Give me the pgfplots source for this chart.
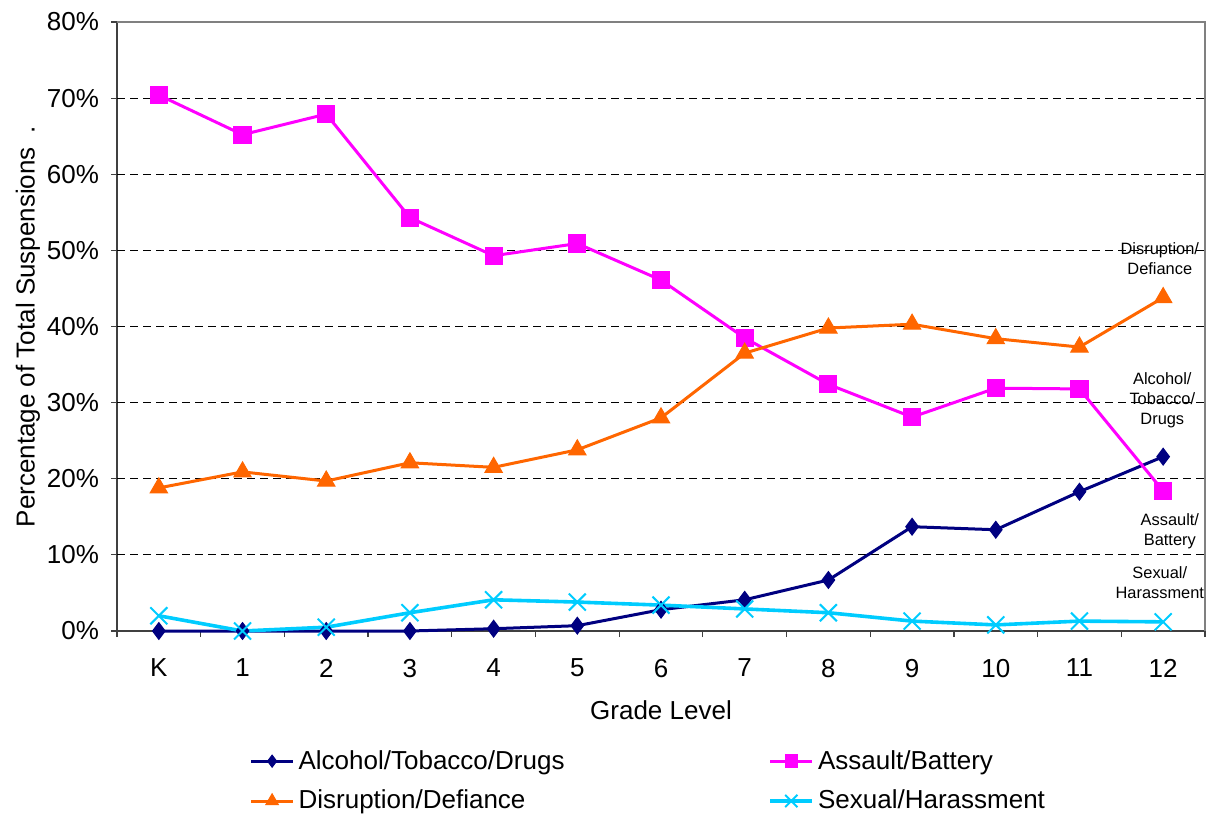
\documentclass[border=0pt]{standalone}
\usepackage{fontspec}
\setmainfont{Liberation Sans}
\usepackage{pgfplots}
\pgfplotsset{compat=1.18}
\definecolor{navyc}{HTML}{000080}
\definecolor{magc}{HTML}{FF00FF}
\definecolor{orangec}{HTML}{FF6600}
\definecolor{cyanc}{HTML}{00CCFF}
\begin{document}
\begin{tikzpicture}
\path (0,0) rectangle (608pt,408pt);
\begin{axis}[
    at={(58.5pt,92.5pt)}, anchor=south west,
    scale only axis, width=544pt, height=304.5pt,
    xmin=-0.5, xmax=12.5, ymin=0, ymax=80,
    clip=false,
    axis x line*=bottom, axis y line*=left,
    axis line style={draw=black!75, line width=0.8pt},
    tick align=outside,
    major tick length=3pt, minor tick length=3pt,
    xtick={0,...,12},
    xticklabels={K,1,2,3,4,5,6,7,8,9,10,11,12},
    major x tick style={draw=none},
    minor xtick={-0.5,0.5,...,12.5},
    minor x tick style={draw=black!75, line width=0.6pt},
    ytick={0,10,...,80},
    ytick style={draw=black!75, line width=0.6pt},
    yticklabel={\pgfmathprintnumber[assume math mode=true]{\tick}\%},
    extra y ticks={10,20,...,70},
    extra y tick labels={},
    extra y tick style={grid=major, major tick length=0pt},
    grid style={black, line width=0.5pt, dash pattern=on 4pt off 2.5pt},
    ticklabel style={font=\fontsize{13}{15}\selectfont},
    xticklabel style={yshift=-7.5pt},
    yticklabel style={xshift=-2.5pt},
    xlabel={Grade Level},
    ylabel={Percentage of Total Suspensions\hspace{7pt}.},
    label style={font=\fontsize{13}{15}\selectfont},
    xlabel style={at={(axis description cs:0.5,-0.1297)}, anchor=center},
    ylabel style={at={(axis description cs:-0.0818,0.5)}, anchor=center},
    legend columns=2,
    legend cell align=left,
    legend image code/.code={
        \draw[mark repeat=2, mark phase=2, #1, every mark/.append style={scale=0.72}]
        plot coordinates {(0pt,0pt) (10.5pt,0pt) (21pt,0pt)};},
    legend style={draw=none, at={(0.116,-0.182)}, anchor=north west,
        font=\fontsize{13}{15}\selectfont, row sep=5pt,
        /tikz/every even column/.append style={column sep=100pt}},
]
\addplot[color=navyc, line width=1.5pt, mark=diamond*, mark size=4.2pt,
    mark options={solid, line width=0.5pt}] coordinates {
    (0,0) (1,0) (2,0) (3,0) (4,0.3) (5,0.7) (6,2.8) (7,4.1)
    (8,6.7) (9,13.7) (10,13.3) (11,18.3) (12,22.9)};
\addlegendentry{Alcohol/Tobacco/Drugs}
\addplot[color=magc, line width=1.5pt, mark=square*, mark size=4.3pt,
    mark options={solid, line width=0.5pt}] coordinates {
    (0,70.4) (1,65.2) (2,67.9) (3,54.3) (4,49.3) (5,50.9) (6,46.1) (7,38.5)
    (8,32.4) (9,28.1) (10,31.9) (11,31.8) (12,18.4)};
\addlegendentry{Assault/Battery}
\addplot[color=orangec, line width=1.5pt, mark=triangle*, mark size=5pt,
    mark options={solid, line width=0.5pt}] coordinates {
    (0,18.8) (1,20.9) (2,19.7) (3,22.1) (4,21.5) (5,23.8) (6,28.0) (7,36.5)
    (8,39.8) (9,40.3) (10,38.4) (11,37.3) (12,43.8)};
\addlegendentry{Disruption/Defiance}
\addplot[color=cyanc, line width=1.8pt, mark=x, mark size=6pt,
    mark options={solid, line width=1pt}] coordinates {
    (0,2.0) (1,0) (2,0.5) (3,2.4) (4,4.1) (5,3.8) (6,3.4) (7,2.9)
    (8,2.4) (9,1.3) (10,0.8) (11,1.3) (12,1.2)};
\addlegendentry{Sexual/Harassment}
\draw[black!50, line width=0.6pt] (rel axis cs:0,1) -- (rel axis cs:1,1) -- (rel axis cs:1,0);
\begin{scope}[every node/.style={align=center, font=\fontsize{8.2}{10}\selectfont}]
\node at (axis cs:11.96,48.9) {Disruption/\\Defiance};
\node at (axis cs:11.99,30.3) {Alcohol/\\Tobacco/\\Drugs};
\node at (axis cs:12.08,13.1) {Assault/\\Battery};
\node at (axis cs:11.96,6.3) {Sexual/\\Harassment};
\end{scope}
\end{axis}
\end{tikzpicture}
\end{document}
